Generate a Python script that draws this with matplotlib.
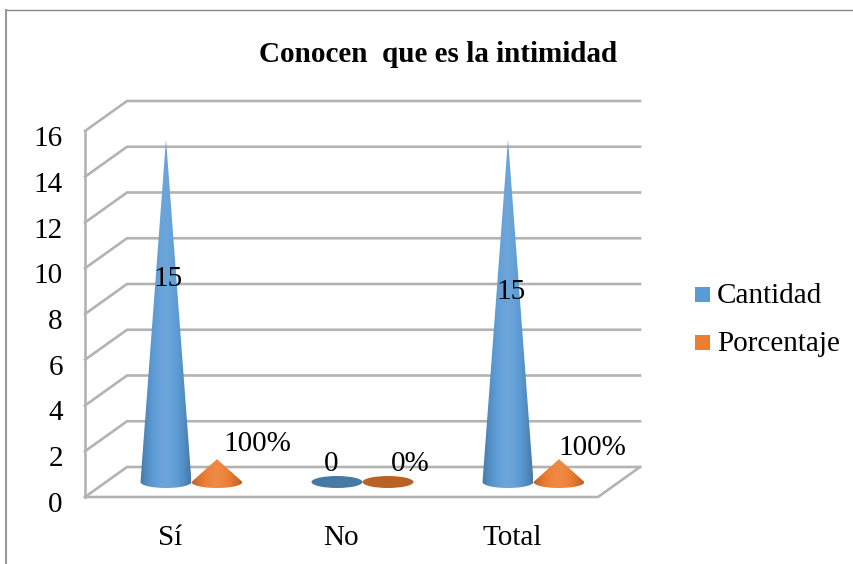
#!/usr/bin/env python
import numpy as np
import matplotlib
matplotlib.use('Agg')
import matplotlib.pyplot as plt
from matplotlib.patches import Polygon, Ellipse, Rectangle
from matplotlib.transforms import ScaledTranslation

plt.rcParams['font.family'] = ['Liberation Serif', 'DejaVu Serif']

title = 'Conocen  que es la intimidad'
categories = ['Sí', 'No', 'Total']
cantidad = [15, 0, 15]
porcentaje = [1, 0, 1]
cantidad_labels = ['15', '0', '15']
porcentaje_labels = ['100%', '0%', '100%']
yticks = list(range(0, 17, 2))

W, H = 854, 564
BLUE = '#5b9bd5'
ORANGE = '#ed7d31'
GRID = '#b3b3b3'
FS = 21

# front wall of the fake 3d box, in pixels
LEFT, RIGHT, BOTTOM, TOP = 85, 598, 497, 131
# depth offset, in data units
DX = 42 / 171
DY = 30 / 22.875
RX = 25.5 / 171   # cone base radius
RY = 6 / 22.875

# where the data labels sit
cantidad_pos = [(0.485, 9.51), (1.44, 1.43), (2.49, 8.95)]
porcentaje_pos = [(1.006, 2.33), (1.90, 1.43), (2.97, 2.15)]


def shade(color, f):
    c = np.array(matplotlib.colors.to_rgb(color))
    return tuple(c * f) if f <= 1 else tuple(c + (1 - c) * (f - 1))


def cone(ax, xc, value, color):
    yc = DY / 2
    t = np.linspace(np.pi, 2 * np.pi, 40)
    base = np.column_stack([xc + RX * np.cos(t), yc + RY * np.sin(t)])
    pts = np.vstack([base, [[xc, yc + value]]])
    poly = Polygon(pts, closed=True, transform=ax.transData, facecolor='none', edgecolor='none')
    ax.add_patch(poly)
    u = np.linspace(-1, 1, 128)
    fade = 0.78 + 0.32 * (1 - np.abs(u) ** 1.6)
    rows = np.array([[shade(color, f) for f in fade]])
    im = ax.imshow(rows, extent=[xc - RX, xc + RX, yc - RY, yc + value], aspect='auto',
                   interpolation='bilinear', zorder=4)
    im.set_clip_path(poly)


fig = plt.figure(figsize=(W / 100, H / 100), dpi=100)
ax = fig.add_axes([LEFT / W, 1 - BOTTOM / H, (RIGHT - LEFT) / W, (BOTTOM - TOP) / H])
ax.set_xlim(0, 3)
ax.set_ylim(0, 16)
ax.patch.set_alpha(0)
for s in ax.spines.values():
    s.set_visible(False)

# gridlines: along the back wall and down the side wall
for v in yticks:
    ax.plot([0, DX, 3 + DX], [v, v + DY, v + DY], color=GRID, lw=1.9, clip_on=False, zorder=1,
            solid_joinstyle='miter')
ax.plot([0, 0], [0, 16], color=GRID, lw=1.9, clip_on=False, zorder=1)
# floor outline
ax.plot([0, 3, 3 + DX], [0, 0, DY], color=GRID, lw=1.9, clip_on=False, zorder=1)

ax.set_xticks([i + 0.5 for i in range(3)], categories, fontsize=FS)
ax.set_yticks(yticks, [str(v) for v in yticks], fontsize=FS)
ax.tick_params(length=0)
ax.tick_params(axis='y', pad=16)
ax.tick_params(axis='x', pad=20)
# y labels sit a little below their gridlines
down = ScaledTranslation(0, -5 / 100, fig.dpi_scale_trans)
for lab in ax.get_yticklabels():
    lab.set_transform(lab.get_transform() + down)

for i in range(3):
    xc = i + 0.5 + DX / 2
    for off, vals, color in [(-RX, cantidad, BLUE), (RX, porcentaje, ORANGE)]:
        if vals[i] > 0:
            cone(ax, xc + off, vals[i], color)
        else:
            ax.add_patch(Ellipse((xc + off, DY / 2), 2 * RX, 2 * RY, facecolor=shade(color, 0.78),
                                 edgecolor='none', zorder=4))

    # data labels
    ax.text(*cantidad_pos[i], cantidad_labels[i], fontsize=FS, ha='center', va='center', zorder=6)
    ax.text(*porcentaje_pos[i], porcentaje_labels[i], fontsize=FS, ha='center', va='center', zorder=6)

ax.set_xlim(0, 3)
ax.set_ylim(0, 16)

fig.text(438 / W, 1 - 54 / H, title, fontsize=FS, fontweight='bold', ha='center', va='center')

# legend
for y, text_y, name, color in [(294, 296, 'Cantidad', BLUE), (342, 344, 'Porcentaje', ORANGE)]:
    fig.patches.append(Rectangle((695 / W, 1 - (y + 7.5) / H), 15 / W, 15 / H, transform=fig.transFigure,
                                 facecolor=color, edgecolor='none'))
    fig.text(717 / W, 1 - text_y / H, name, fontsize=FS, ha='left', va='center')

# chart frame
fig.add_artist(plt.Line2D([6.5 / W, 6.5 / W], [0, 1 - 9.5 / H], color='#999999', lw=1.5))
fig.add_artist(plt.Line2D([6 / W, 1], [1 - 9.5 / H, 1 - 9.5 / H], color='#888888', lw=1))

fig.savefig('out.png', dpi=100)
